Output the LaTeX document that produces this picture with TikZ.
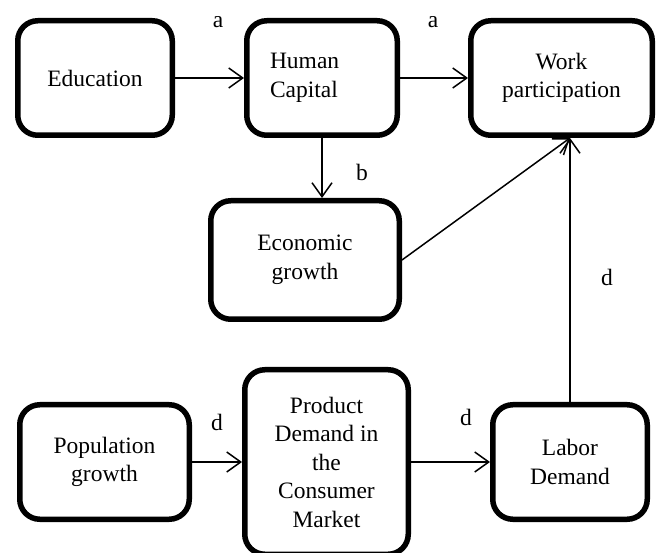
\documentclass[tikz,border=0pt]{standalone}
\usepackage{fontspec}
\setmainfont{Liberation Serif}
\usetikzlibrary{arrows.meta,calc}
\begin{document}
\begin{tikzpicture}[x=1pt,y=-1pt,
  box/.style={draw, line width=5.5pt, rounded corners=20pt, align=center,
    font=\fontsize{23.5}{28.5}\selectfont, inner sep=0pt},
  conn/.style={line width=1.5pt, -{Straight Barb[length=14pt,width=20pt,line width=1.5pt]}},
  lbl/.style={font=\fontsize{23.5}{28.5}\selectfont, inner sep=0pt}]
\useasboundingbox (0,0) rectangle (659,553);
\node[box, minimum width=154.5pt, minimum height=114.5pt] (edu) at (95,78) {Education};
\node[box, minimum width=150.5pt, minimum height=114.5pt, text width=104pt, align=left] (hc) at (322,78) {Human\\Capital};
\node[box, minimum width=181.5pt, minimum height=114.5pt] (wp) at (561.5,78) {Work\\participation};
\node[box, minimum width=188.5pt, minimum height=118.5pt] (eg) at (305,260) {Economic\\growth};
\node[box, minimum width=169.5pt, minimum height=114.5pt] (pop) at (104.5,462) {Population\\growth};
\node[box, minimum width=163.5pt, minimum height=184.5pt] (pd) at (326.5,462) {Product\\Demand in\\the\\Consumer\\Market};
\node[box, minimum width=154.5pt, minimum height=114.5pt] (ld) at (570,462) {Labor\\Demand};
\draw[conn] (edu) -- (hc);
\draw[conn] (hc) -- (wp);
\draw[conn] (hc.south) -- (hc.south |- eg.north);
\draw[conn] (eg.east) -- (ld.north |- wp.south);
\draw[conn] (ld.north) -- (ld.north |- wp.south);
\draw[conn] (pop.east) -- (pop.east -| pd.west);
\draw[conn] (pd.east |- ld.west) -- (ld.west);
\node[lbl] (la1) at (218,22) {a};
\node[lbl] (la2) at (433,22) {a};
\node[lbl] (lb) at (362,172) {b};
\node[lbl] (ld1) at (607,277) {d};
\node[lbl] (ld2) at (217,422) {d};
\node[lbl] (ld3) at (466,417) {d};
\end{tikzpicture}
\end{document}
